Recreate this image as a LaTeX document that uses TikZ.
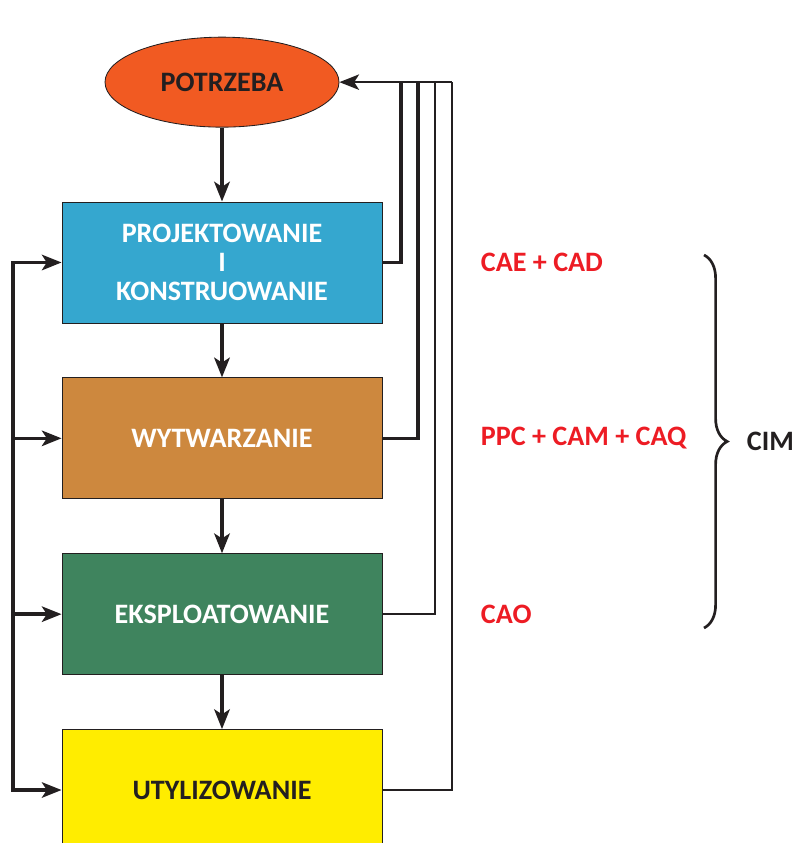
\documentclass[tikz,border=0pt]{standalone}
\usepackage{fontspec}
\setmainfont{Carlito}
\usepackage{xcolor}
\usepackage{tikz}
\usetikzlibrary{shapes.geometric, arrows.meta, positioning, decorations.pathreplacing}
\definecolor{mydark}{RGB}{35,31,32}
\definecolor{myorange}{RGB}{241,90,34}
\definecolor{myblue}{RGB}{53,167,207}
\definecolor{mybrown}{RGB}{205,136,62}
\definecolor{mygreen}{RGB}{63,132,94}
\definecolor{myyellow}{RGB}{255,237,0}
\definecolor{myred}{RGB}{237,28,36}
\tikzset{
  stage/.style={rectangle, draw=mydark, text=white,
    minimum width=8cm, minimum height=3.025cm, align=center,
    font=\bfseries\fontsize{20}{20.5}\selectfont, line width=0.6pt},
  goal/.style={ellipse, draw=mydark, fill=myorange, text=mydark,
    minimum width=5.85cm, minimum height=2.25cm, inner sep=0pt,
    font=\bfseries\fontsize{20}{20.5}\selectfont, line width=0.6pt},
  tag/.style={anchor=west, text=myred,
    font=\bfseries\fontsize{20}{20.5}\selectfont},
  arrow/.style={-{Stealth[length=14pt, width=11pt, inset=3.5pt]},
    line width=2.6pt, color=mydark},
  line/.style={line width=2pt, color=mydark}
}

\begin{document}
\begin{tikzpicture}
  \useasboundingbox (0,0) rectangle (19.875,21.075);

  % Stages
  \node[stage, fill=myblue] (design) at (5.55, 14.5125) {PROJEKTOWANIE\\I\\KONSTRUOWANIE};
  \node[stage, fill=mybrown, below=1.35cm of design] (manuf) {WYTWARZANIE};
  \node[stage, fill=mygreen, below=1.35cm of manuf] (oper) {EKSPLOATOWANIE};
  \node[stage, fill=myyellow, text=mydark, below=1.35cm of oper] (util) {UTYLIZOWANIE};

  % Need
  \node[goal, above=1.85cm of design] (need) {POTRZEBA};

  % Main flow
  \draw[arrow] (need) -- (design);
  \draw[arrow] (design) -- (manuf);
  \draw[arrow] (manuf) -- (oper);
  \draw[arrow] (oper) -- (util);

  % Left feedback
  \coordinate (lft) at (0.325, 0);
  \draw[line, line width=2.4pt, line cap=rect] (design.west -| lft) -- (util.west -| lft);
  \foreach \n in {design, manuf, oper, util}
    \draw[arrow, line width=2.4pt] (\n.west -| lft) -- (\n.west);

  % Right feedback to the need
  \coordinate (r1) at (10.025, 0);
  \coordinate (r2) at (10.45, 0);
  \coordinate (r3) at (10.875, 0);
  \coordinate (r4) at (11.3, 0);
  \draw[line, line width=2.6pt] (design.east) -| (r1 |- need.east);
  \draw[line, line width=2.3pt] (manuf.east) -| (r2 |- need.east);
  \draw[line, line width=1.5pt] (oper.east) -| (r3 |- need.east);
  \draw[line] (util.east) -| (r4 |- need.east);
  \draw[arrow, line width=1.3pt] (r4 |- need.east) -- (need.east);

  % Computer aided tags
  \coordinate (tx) at (11.9, 0);
  \node[tag] (cae) at (design.east -| tx) {CAE + CAD};
  \node[tag] (ppc) at (manuf.east -| tx) {PPC + CAM + CAQ};
  \node[tag] (cao) at (oper.east -| tx) {CAO};

  % CIM brace
  \coordinate (bt) at (17.6, 14.7);
  \coordinate (bb) at (17.6, 5.375);
  \draw[decorate, decoration={brace, amplitude=0.58cm}, line width=1.9pt, color=mydark] (bt) -- (bb);
  \node[anchor=west, text=mydark, font=\bfseries\fontsize{20}{20.5}\selectfont] (cim) at (18.55, 10.05) {CIM};
\end{tikzpicture}
\end{document}
